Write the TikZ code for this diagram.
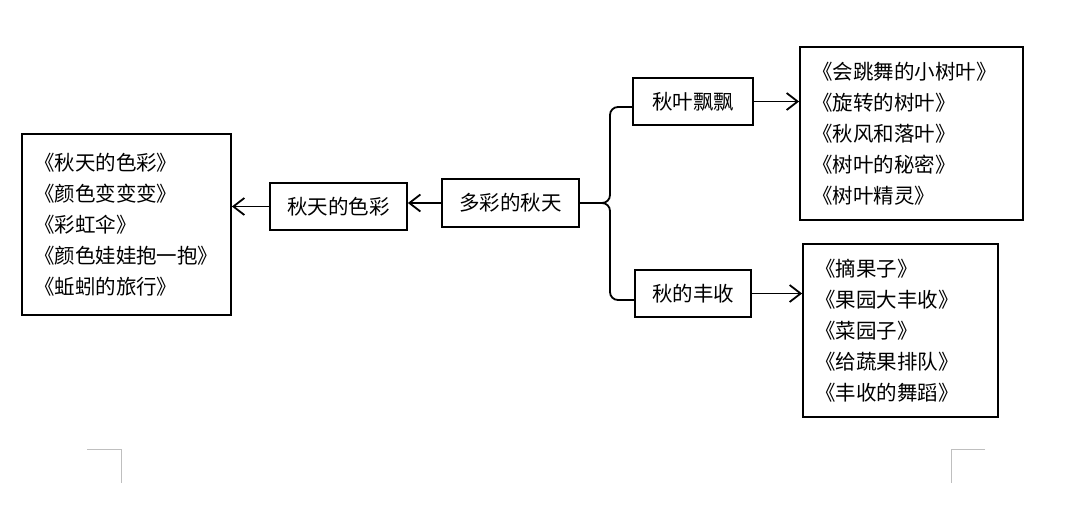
\documentclass[tikz,border=0pt]{standalone}
\usepackage{fontspec}
\newfontfamily\cjk{Noto Sans CJK SC}
\usetikzlibrary{arrows.meta,calc}

\begin{document}
\begin{tikzpicture}[x=1pt,y=-1pt,
	box/.style={draw,line width=1.8pt,minimum height=47pt,inner sep=0pt,font=\cjk\fontsize{20.5}{31}\selectfont},
	lst/.style={box,align=left,inner xsep=12pt,minimum height=173pt},
	arr/.style={line width=1.8pt,-{Straight Barb[length=11pt,width=17pt,line width=1.8pt]}}]
	\useasboundingbox (0,0) rectangle (1092,523);

	\node[box,minimum width=137pt,minimum height=48pt] (root) at (510.5,203) {多彩的秋天};
	\node[box,minimum width=137pt] (color) at (338.5,206.5) {秋天的色彩};	%left
	\node[box,minimum width=120pt] (leaf) at (693,101.5) {秋叶飘飘};		%top
	\node[box,minimum width=116pt] (harvest) at (693,293.5) {秋的丰收};	%bottom

	%lists
	\node[lst,text width=185pt,minimum height=181pt] (colorlist) at (126.5,224.5)
		{《秋天的色彩》\\《颜色变变变》\\《彩虹伞》\\《颜色娃娃抱一抱》\\《蚯蚓的旅行》};
	\node[lst,text width=199pt] (leaflist) at (911.5,133.5)
		{《会跳舞的小树叶》\\《旋转的树叶》\\《秋风和落叶》\\《树叶的秘密》\\《树叶精灵》};
	\node[lst,text width=171pt] (harvestlist) at (900.5,330.5)
		{《摘果子》\\《果园大丰收》\\《菜园子》\\《给蔬果排队》\\《丰收的舞蹈》};

	%brace
	\coordinate (fork) at (610,203);
	\draw[line width=1.8pt,rounded corners=8pt] ([yshift=-5.5pt]leaf.west) -| (fork) -- (root.east);
	\draw[line width=1.8pt,rounded corners=8pt] (root.east) -- (fork) |- ([yshift=-6.5pt]harvest.west);

	%arrows
	\draw[arr] (root.west) -- (root.west -| color.east);
	\draw[arr] (color.west) -- (color.west -| colorlist.east);
	\draw[arr] (leaf.east) -- (leaf.east -| leaflist.west);
	\draw[arr] (harvest.east) -- (harvest.east -| harvestlist.west);

	%corner marks
	\draw[gray!50,line width=0.8pt] (87,449) -| (121,483);
	\draw[gray!50,line width=0.8pt] (985,449) -| (951,483);
\end{tikzpicture}
\end{document}
